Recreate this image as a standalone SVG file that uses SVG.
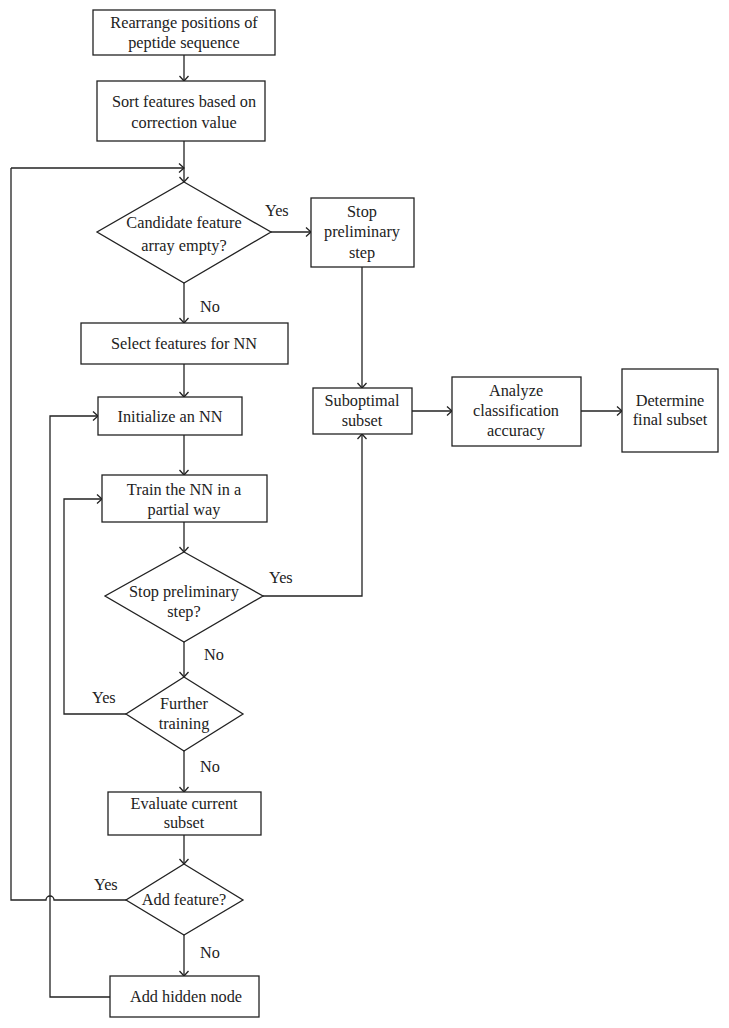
<svg xmlns="http://www.w3.org/2000/svg" width="729" height="1028" viewBox="0 0 729 1028">
<defs>
<style>
.b{fill:#fff;stroke:#222;stroke-width:1.3}
.c{fill:none;stroke:#222;stroke-width:1.3}
text{font-family:"Liberation Serif","Times New Roman",serif;font-size:16.3px;fill:#222;text-anchor:middle}
.l{text-anchor:start}
</style>
<marker id="a" markerUnits="userSpaceOnUse" markerWidth="12" markerHeight="12" viewBox="-7 -6 8 12" refX="0" refY="0" orient="auto">
<path d="M-5,-4.5 L0,0 L-5,4.5" fill="none" stroke="#222" stroke-width="1.3"/>
</marker>
</defs>
<rect width="729" height="1028" fill="#fff"/>
<g id="connectors">
<path class="c" d="M184,55 V81" marker-end="url(#a)"/>
<path class="c" d="M184,141 V182" marker-end="url(#a)"/>
<path class="c" d="M11,168 H184" marker-end="url(#a)"/>
<path class="c" d="M271,232 H311" marker-end="url(#a)"/>
<path class="c" d="M184,283 V323" marker-end="url(#a)"/>
<path class="c" d="M362,267 V388" marker-end="url(#a)"/>
<path class="c" d="M412,411 H452" marker-end="url(#a)"/>
<path class="c" d="M581,411 H622" marker-end="url(#a)"/>
<path class="c" d="M184,364 V397" marker-end="url(#a)"/>
<path class="c" d="M184,435 V475" marker-end="url(#a)"/>
<path class="c" d="M184,522 V552" marker-end="url(#a)"/>
<path class="c" d="M263,596 H362 V434" marker-end="url(#a)"/>
<path class="c" d="M184,642 V677" marker-end="url(#a)"/>
<path class="c" d="M126,714 H64 V499 H102" marker-end="url(#a)"/>
<path class="c" d="M184,751 V792" marker-end="url(#a)"/>
<path class="c" d="M184,835 V864" marker-end="url(#a)"/>
<path class="c" d="M126,900 H54 A4,4 0 0 0 46,900 H11 V168"/>
<path class="c" d="M184,935 V976" marker-end="url(#a)"/>
<path class="c" d="M110,997 H50 V416 H98" marker-end="url(#a)"/>
<text class="l" x="265" y="216">Yes</text>
<text class="l" x="200" y="312">No</text>
<text class="l" x="269" y="583">Yes</text>
<text class="l" x="204" y="660">No</text>
<text class="l" x="92" y="703">Yes</text>
<text class="l" x="200" y="772">No</text>
<text class="l" x="94" y="890">Yes</text>
<text class="l" x="200" y="958">No</text>
</g>
<g id="n1"><rect class="b" x="93" y="10" width="182" height="45"/><text x="184" y="28">Rearrange positions of</text><text x="184" y="48">peptide sequence</text></g>
<g id="n2"><rect class="b" x="97" y="81" width="168" height="60"/><text x="184" y="107">Sort features based on</text><text x="184" y="128">correction value</text></g>
<g id="d1"><polygon class="b" points="184,182 271,232 184,283 97,232"/><text x="184" y="228">Candidate feature</text><text x="184" y="251">array empty?</text></g>
<g id="n3"><rect class="b" x="311" y="198" width="103" height="69"/><text x="362" y="217">Stop</text><text x="362" y="237">preliminary</text><text x="362" y="258">step</text></g>
<g id="n4"><rect class="b" x="81" y="323" width="207" height="41"/><text x="184" y="349">Select features for NN</text></g>
<g id="n5"><rect class="b" x="98" y="397" width="144" height="38"/><text x="170" y="422">Initialize an NN</text></g>
<g id="n6"><rect class="b" x="313" y="388" width="99" height="46"/><text x="362" y="406">Suboptimal</text><text x="362" y="426">subset</text></g>
<g id="n7"><rect class="b" x="452" y="377" width="129" height="69"/><text x="516" y="396">Analyze</text><text x="516" y="416">classification</text><text x="516" y="436">accuracy</text></g>
<g id="n8"><rect class="b" x="622" y="369" width="96" height="83"/><text x="670" y="406">Determine</text><text x="670" y="425">final subset</text></g>
<g id="n9"><rect class="b" x="102" y="475" width="165" height="47"/><text x="184" y="495">Train the NN in a</text><text x="184" y="515">partial way</text></g>
<g id="d2"><polygon class="b" points="184,552 263,596 184,642 105,596"/><text x="184" y="597">Stop preliminary</text><text x="184" y="617">step?</text></g>
<g id="d3"><polygon class="b" points="184,677 243,714 184,751 126,714"/><text x="184" y="709">Further</text><text x="184" y="729">training</text></g>
<g id="n10"><rect class="b" x="108" y="792" width="153" height="43"/><text x="184" y="809">Evaluate current</text><text x="184" y="828">subset</text></g>
<g id="d4"><polygon class="b" points="184,864 243,900 184,935 126,900"/><text x="184" y="905">Add feature?</text></g>
<g id="n11"><rect class="b" x="110" y="976" width="149" height="41"/><text x="186" y="1002">Add hidden node</text></g>
</svg>
